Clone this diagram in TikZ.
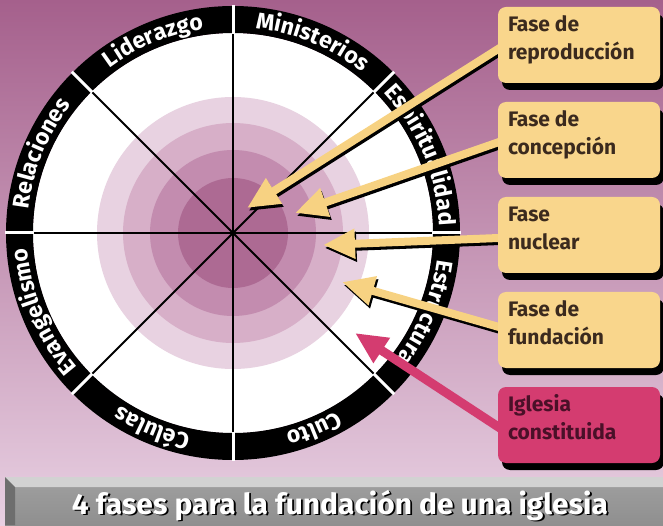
\documentclass[tikz,border=0pt]{standalone}
\usepackage{fontspec}
\setmainfont{Fira Sans}
\usepackage{graphicx}
\usetikzlibrary{arrows.meta,decorations.text,calc}
\definecolor{bgtop}{HTML}{A5608C}
\definecolor{bgmid}{HTML}{C592B6}
\definecolor{bgbot}{HTML}{E8D0E2}
\definecolor{shA}{HTML}{E8D2E1}
\definecolor{shB}{HTML}{D7AFC8}
\definecolor{shC}{HTML}{C38CAF}
\definecolor{shD}{HTML}{AD6A93}
\definecolor{boxyellow}{HTML}{F9D68C}
\definecolor{arryellow}{HTML}{F7D282}
\definecolor{magbox}{HTML}{D43C70}
\definecolor{boxtext}{HTML}{3B2A1E}
\definecolor{magtext}{HTML}{4A1028}
\definecolor{bangrey}{HTML}{8F8F8F}
\definecolor{banlight}{HTML}{D2D2D2}
\definecolor{bandark}{HTML}{6E6E6E}
\newcommand\ringfmt{\bfseries\fontsize{23pt}{23pt}\selectfont}
\tikzset{
  spoke/.style={black, line width=2pt},
  sep/.style={white, line width=3pt},
  ringlabel/.style={decorate, decoration={text along path, text={|\ringfmt|#1}, text align=center, text color=white}},
  yarrow/.style={line width=8pt, draw=arryellow, -{Triangle[length=32pt, width=28pt]}},
  sarrow/.style={line width=8pt, draw=black, -{Triangle[length=32pt, width=28pt]}, transform canvas={xshift=1.5pt, yshift=-3pt}},
  marrow/.style={line width=9pt, draw=magbox, -{Triangle[length=32pt, width=28pt]}},
  pbox/.style={rounded corners=8pt, minimum width=162pt, minimum height=76pt, inner sep=0pt, fill=boxyellow},
  pshadow/.style={pbox, fill=black},
  btxt/.style={anchor=base west, inner sep=0pt, text=boxtext, font=\bfseries\fontsize{21pt}{21pt}\selectfont},
  titletxt/.style={anchor=base, inner sep=0pt, font=\bfseries\fontsize{29pt}{29pt}\selectfont}
}
\newcommand\titlestr{\resizebox{536pt}{\height}{4 fases para la fundación de una iglesia}}
\begin{document}
\begin{tikzpicture}[x=1pt,y=1pt]
\useasboundingbox (0,0) rectangle (663,525);
% background
\shade[top color=bgtop, middle color=bgmid, bottom color=bgbot] (0,0) rectangle (663,525);
% wheel
\coordinate (C) at (233,292);
\fill[white] (C) circle[radius=200];
\fill[shA] (C) circle[radius=136];
\fill[shB] (C) circle[radius=110];
\fill[shC] (C) circle[radius=83];
\fill[shD] (C) circle[radius=55];
\foreach \a in {0,45,...,315} \draw[spoke] (C) -- ++(\a:200);
\fill[black, even odd rule] (C) circle[radius=227] (C) circle[radius=200];
\foreach \a in {0,45,...,315} \draw[sep] (C) ++(\a:199) -- ++(\a:29);
% ring labels
\path[ringlabel={Liderazgo}] (C) ++(134.5:206) arc[start angle=134.5, end angle=90.5, radius=206];
\path[ringlabel={Ministerios}] (C) ++(89.5:206) arc[start angle=89.5, end angle=45.5, radius=206];
\path[ringlabel={Espiritualidad}] (C) ++(44.5:206) arc[start angle=44.5, end angle=0.5, radius=206];
\path[ringlabel={Estructura}] (C) ++(-0.5:206) arc[start angle=-0.5, end angle=-44.5, radius=206];
\path[ringlabel={Culto}] (C) ++(-45.5:206) arc[start angle=-45.5, end angle=-89.5, radius=206];
\path[ringlabel={Células}] (C) ++(-90.5:206) arc[start angle=-90.5, end angle=-134.5, radius=206];
\path[ringlabel={Evangelismo}] (C) ++(-135.5:206) arc[start angle=-135.5, end angle=-179.5, radius=206];
\path[ringlabel={Relaciones}] (C) ++(179.5:206) arc[start angle=179.5, end angle=135.5, radius=206];
% arrow ends
\coordinate (s1) at (506,481);   \coordinate (t1) at (247,317);
\coordinate (s2) at (506,385.4); \coordinate (t2) at (295,312);
\coordinate (s3) at (506,287.3); \coordinate (t3) at (323,280);
\coordinate (s4) at (506,196);   \coordinate (t4) at (342,243);
\coordinate (s5) at (506,93);    \coordinate (t5) at (355,192);
% arrows
\foreach \i in {1,2,3,4} \draw[sarrow] (s\i) -- (t\i);
\foreach \i in {1,2,3,4} \draw[yarrow] (s\i) -- (t\i);
\draw[marrow] (s5) -- (t5);
% boxes
\node[pshadow] (b1s) at (583,473) {};
\node[pbox] (b1) at (579,480) {};
\node[pshadow] (b2s) at (583,378) {};
\node[pbox] (b2) at (579,385) {};
\node[pshadow] (b3s) at (583,283) {};
\node[pbox] (b3) at (579,290) {};
\node[pshadow] (b4s) at (583,188) {};
\node[pbox] (b4) at (579,195) {};
\node[pshadow] (b5s) at (583,93) {};
\node[pbox, fill=magbox] (b5) at (579,100) {};
\node[btxt] (b1a) at ($(b1.north west)+(10,-25)$) {Fase de};
\node[btxt] (b1b) at ($(b1.north west)+(10,-53)$) {reproducción};
\node[btxt] (b2a) at ($(b2.north west)+(10,-25)$) {Fase de};
\node[btxt] (b2b) at ($(b2.north west)+(10,-53)$) {concepción};
\node[btxt] (b3a) at ($(b3.north west)+(10,-25)$) {Fase};
\node[btxt] (b3b) at ($(b3.north west)+(10,-53)$) {nuclear};
\node[btxt] (b4a) at ($(b4.north west)+(10,-25)$) {Fase de};
\node[btxt] (b4b) at ($(b4.north west)+(10,-53)$) {fundación};
\node[btxt, text=magtext] (b5a) at ($(b5.north west)+(10,-25)$) {Iglesia};
\node[btxt, text=magtext] (b5b) at ($(b5.north west)+(10,-53)$) {constituida};
% banner
\shade[top color=bangrey!85!white, bottom color=bangrey] (5,0) rectangle (663,48);
\fill[banlight] (5,48) -- (663,48) -- (663,38) -- (15,38) -- cycle;
\fill[bandark] (5,48) -- (15,38) -- (15,0) -- (5,0) -- cycle;
\node[titletxt, text=black] (ttls) at (341.8,9.2) {\titlestr};
\node[titletxt, text=white] (ttl) at (340,11) {\titlestr};
\end{tikzpicture}
\end{document}
